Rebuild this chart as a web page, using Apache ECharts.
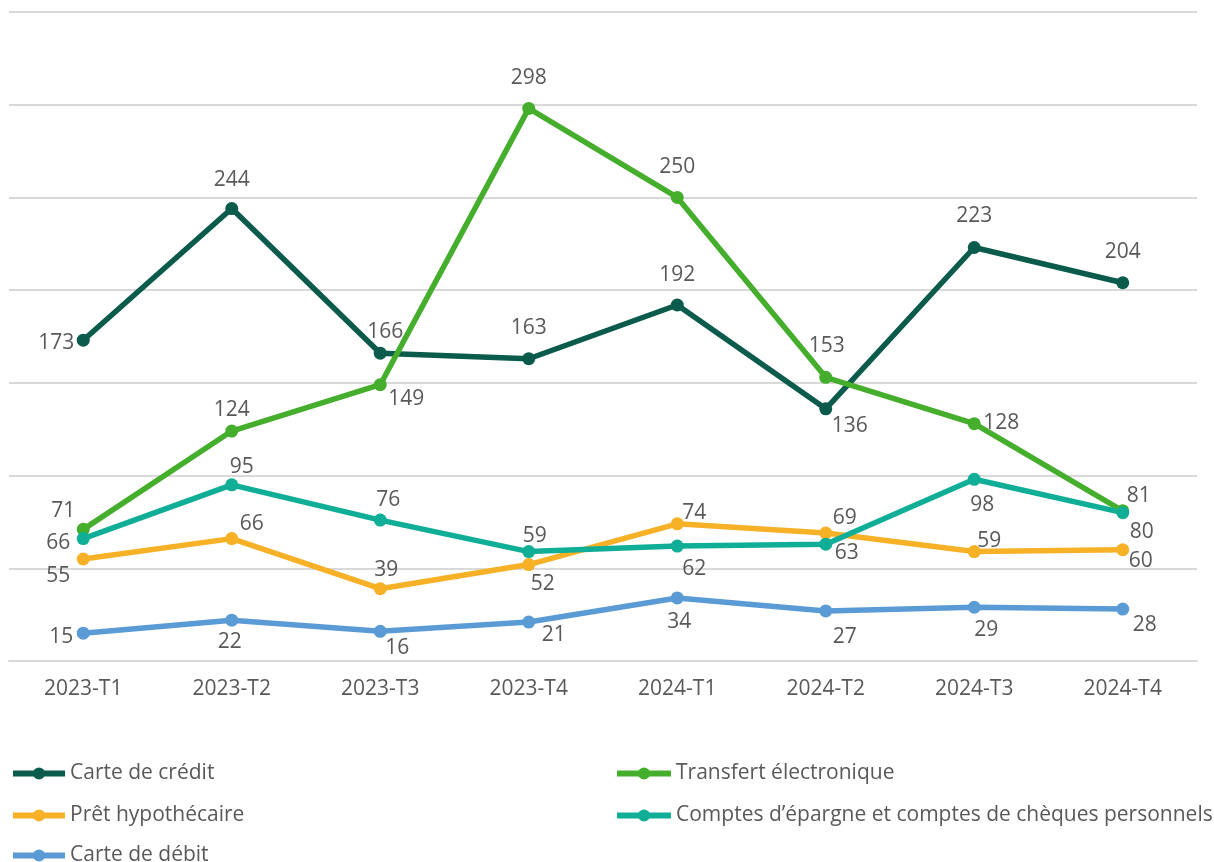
<!DOCTYPE html>
<html><head><meta charset="utf-8">
<script src="https://cdn.jsdelivr.net/npm/echarts@6/dist/echarts.min.js"></script>
<style>html,body{margin:0;padding:0;background:#fff}#c{width:1214px;height:862px}</style>
</head><body><div id="c"></div>
<script>
// ---- Data ----
const categories = ['2023-T1','2023-T2','2023-T3','2023-T4','2024-T1','2024-T2','2024-T3','2024-T4'];
const carteCredit = [173,244,166,163,192,136,223,204];
const transfertElectronique = [71,124,149,298,250,153,128,81];
const pretHypothecaire = [55,66,39,52,74,69,59,60];
const comptesEpargne = [66,95,76,59,62,63,98,80];
const carteDebit = [15,22,16,21,34,27,29,28];
const seriesNames = ['Carte de crédit','Transfert électronique','Prêt hypothécaire','Comptes d\u2019épargne et comptes de chèques personnels','Carte de débit'];

// ---- Style / layout ----
const colors = ['#0B5B4C','#45AE2C','#F6B127','#10AE97','#5B9BD5'];
const labelOffsets = [
  [[-27,1],[0,-31],[5,-23],[0,-33],[0,-32],[24,15],[0,-33],[0,-33]],
  [[-20,-20],[0,-23],[26,12],[0,-32],[0,-32],[1,-33],[27,-3],[16,-17]],
  [[-25,15],[20,-17],[6,-21],[14,17],[17,-13],[19,-17],[15,-13],[18,9]],
  [[-25,2],[10,-20],[8,-22],[6,-18],[17,21],[21,7],[8,24],[19,17]],
  [[-22,2],[-2,20],[17,15],[25,11],[2,22],[19,24],[12,21],[22,14]]
];
const LABEL_DY = 2;
const legendPos = [[10,763,52],[614,763,54],[10,805,52],[614,805,54],[10,845,52]];
const FONT = '"Open Sans", sans-serif';
const TXT = '#595959';

const values = [carteCredit, transfertElectronique, pretHypothecaire, comptesEpargne, carteDebit];

const series = values.map((vals, s) => ({
  name: seriesNames[s],
  type: 'line',
  symbol: 'circle',
  symbolSize: 13,
  color: colors[s],
  lineStyle: { width: 5.5, color: colors[s] },
  itemStyle: { color: colors[s] },
  label: { show: true, position: 'inside', color: TXT, fontSize: 21, fontFamily: FONT },
  emphasis: { disabled: true },
  data: vals.map((v, i) => ({ value: v, label: { offset: [labelOffsets[s][i][0], labelOffsets[s][i][1] + LABEL_DY] } }))
}));

const legends = seriesNames.map((n, s) => ({
  data: [n],
  left: legendPos[s][0],
  top: legendPos[s][1],
  itemWidth: legendPos[s][2],
  itemHeight: 15,
  padding: 0,
  lineStyle: { width: 6 },
  textStyle: { color: TXT, fontSize: 21, fontFamily: FONT },
  selectedMode: false
}));

const chart = echarts.init(document.getElementById('c'), null, { renderer: 'canvas' });
chart.setOption({
  animation: false,
  backgroundColor: '#ffffff',
  grid: { left: 9, right: 17, top: 12, height: 649, containLabel: false },
  xAxis: {
    type: 'category',
    data: categories,
    boundaryGap: true,
    axisLine: { show: true, lineStyle: { color: '#D9D9D9', width: 2 } },
    axisTick: { show: false },
    axisLabel: { color: TXT, fontSize: 21, fontFamily: FONT, margin: 18 }
  },
  yAxis: {
    type: 'value',
    min: 0, max: 350, interval: 50,
    axisLabel: { show: false },
    axisLine: { show: false },
    axisTick: { show: false },
    splitLine: { lineStyle: { color: '#D9D9D9', width: 2 } }
  },
  legend: legends,
  series: series
});
</script></body></html>
